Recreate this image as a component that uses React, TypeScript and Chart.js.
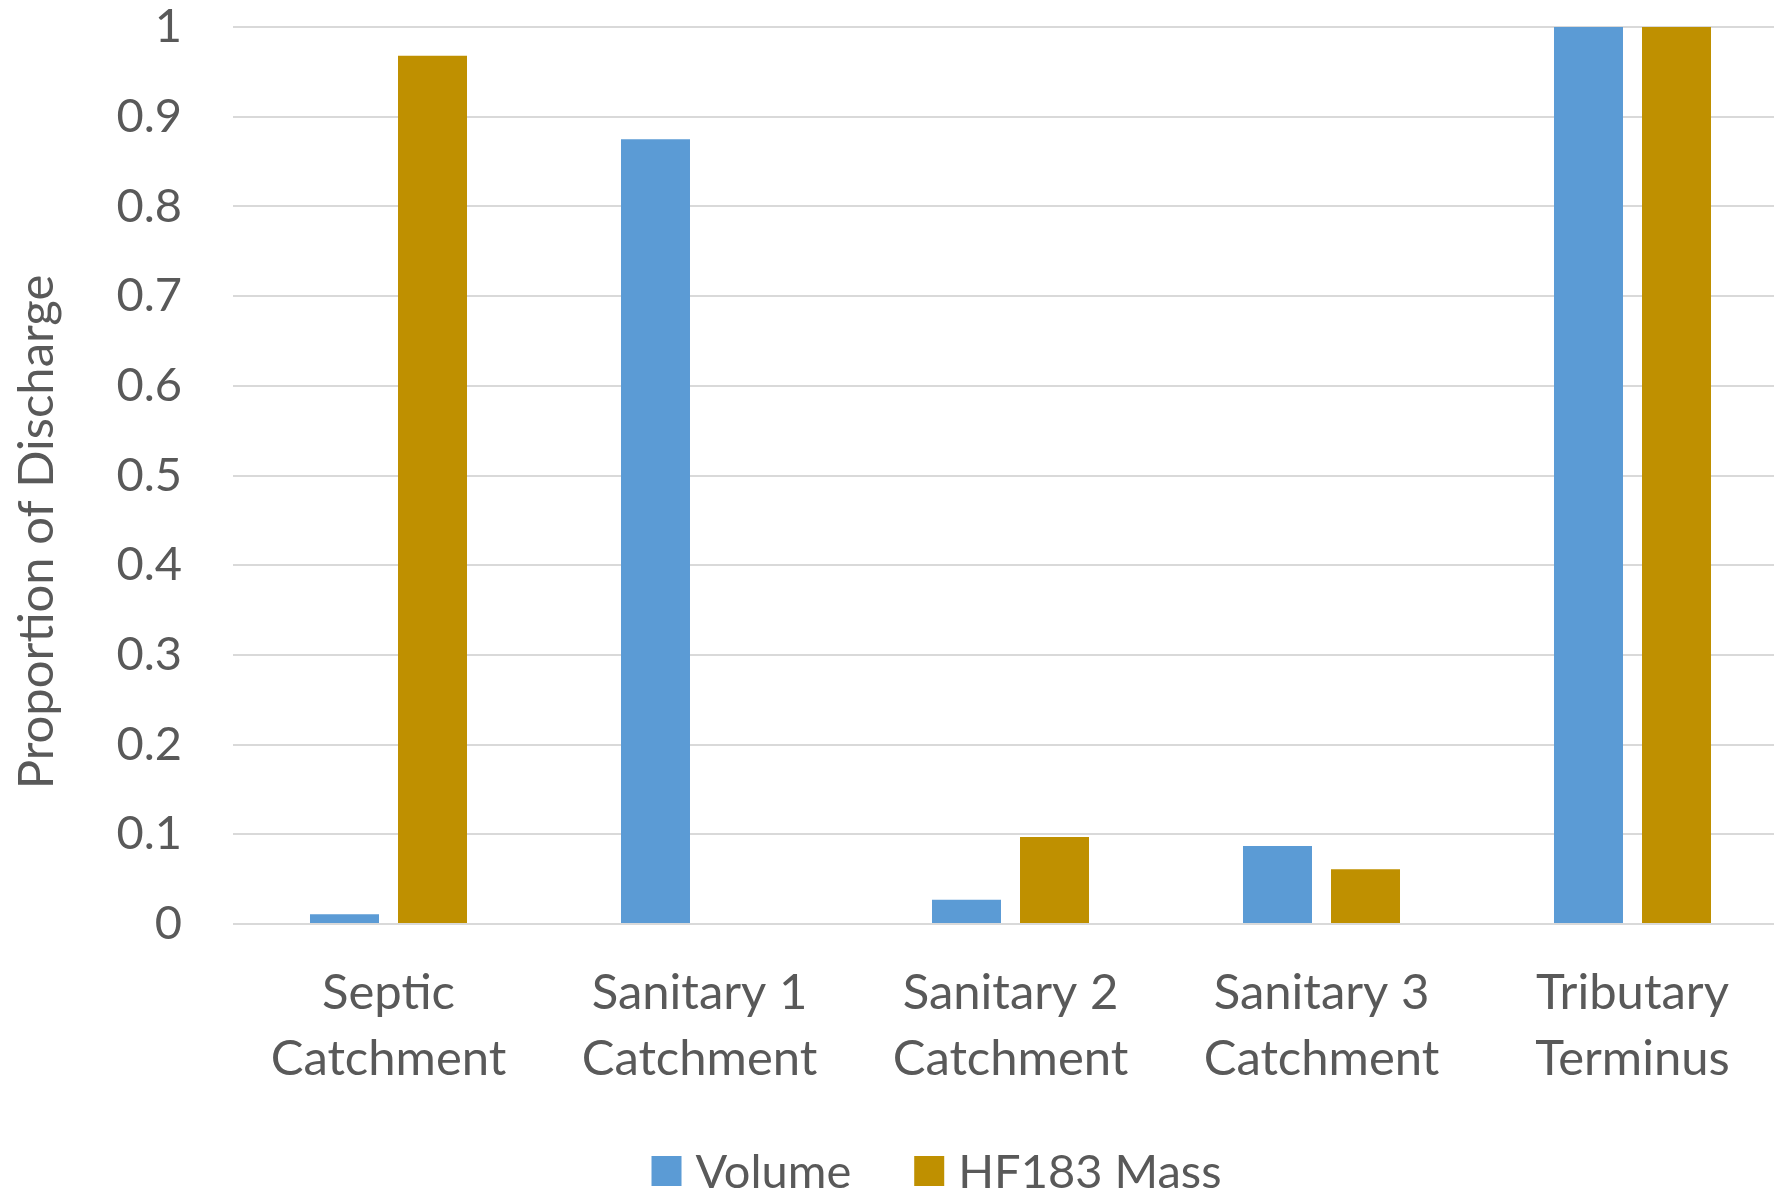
import React, { useEffect, useRef } from "react";
import { Chart, registerables } from "chart.js";

Chart.register(...registerables);

// Catchment categories (two-line labels)
const categories: string[][] = [
  ["Septic", "Catchment"],
  ["Sanitary 1", "Catchment"],
  ["Sanitary 2", "Catchment"],
  ["Sanitary 3", "Catchment"],
  ["Tributary", "Terminus"],
];

// Proportion of discharge per catchment
const volume: number[] = [0.011, 0.875, 0.027, 0.087, 1];
const hf183Mass: number[] = [0.968, 0, 0.097, 0.061, 1];

const seriesNames: string[] = ["Volume", "HF183 Mass"];
const seriesColors: string[] = ["#5B9BD5", "#BF9000"];

const yAxisTitle = "Proportion of Discharge";
const yMin = 0;
const yMax = 1;
const yStep = 0.1;

const FONT = "Lato, 'Open Sans', sans-serif";
const TICK_SIZE = 47;
const LABEL_SIZE = 49;
const TITLE_SIZE = 49;
const LEGEND_SIZE = 47;
const TEXT_COLOR = "#595959";
const GRID_COLOR = "#D9D9D9";

// Visible page area; the plot runs a little past the right edge
const W = 1774;
const H = 1190;
const CANVAS_W = 1788;

// Draws the rotated y-axis title and the bottom legend
const decorations = {
  id: "decorations",
  afterDraw(chart: Chart) {
    const ctx = chart.ctx;
    ctx.save();
    ctx.fillStyle = TEXT_COLOR;

    // y-axis title
    ctx.save();
    ctx.font = `${TITLE_SIZE}px ${FONT}`;
    ctx.translate(53, 532);
    ctx.rotate(-Math.PI / 2);
    ctx.textAlign = "center";
    ctx.textBaseline = "alphabetic";
    ctx.fillText(yAxisTitle, 0, 0);
    ctx.restore();

    // legend
    ctx.font = `${LEGEND_SIZE}px ${FONT}`;
    const box = 30;
    const boxGap = 14;
    const itemGap = 63;
    const items = chart.data.datasets.map((ds) => ({
      label: String(ds.label),
      color: String(ds.backgroundColor),
      w: ctx.measureText(String(ds.label)).width,
    }));
    const total =
      items.reduce((s, it) => s + box + boxGap + it.w, 0) + itemGap * (items.length - 1);
    let x = 936.5 - total / 2;
    const cy = 1171;
    ctx.textAlign = "left";
    ctx.textBaseline = "middle";
    for (const it of items) {
      ctx.fillStyle = it.color;
      ctx.fillRect(x, cy - box / 2, box, box);
      x += box + boxGap;
      ctx.fillStyle = TEXT_COLOR;
      ctx.fillText(it.label, x, cy + 2);
      x += it.w + itemGap;
    }
    ctx.restore();
  },
};

export default function App() {
  const ref = useRef<HTMLCanvasElement | null>(null);

  useEffect(() => {
    if (!ref.current) return;
    const chart = new Chart(ref.current, {
      type: "bar",
      data: {
        labels: categories,
        datasets: [
          {
            label: seriesNames[0],
            data: volume,
            backgroundColor: seriesColors[0],
            borderWidth: 0,
            categoryPercentage: 0.566,
            barPercentage: 0.784,
          },
          {
            label: seriesNames[1],
            data: hf183Mass,
            backgroundColor: seriesColors[1],
            borderWidth: 0,
            categoryPercentage: 0.566,
            barPercentage: 0.784,
          },
        ],
      },
      options: {
        animation: false,
        responsive: false,
        devicePixelRatio: 1,
        layout: { padding: { top: 27, left: 0, right: 0, bottom: 0 } },
        plugins: {
          legend: { display: false },
          tooltip: { enabled: false },
          title: { display: false },
        },
        scales: {
          x: {
            grid: { display: false },
            border: { display: false },
            ticks: {
              color: TEXT_COLOR,
              font: { family: FONT, size: LABEL_SIZE, lineHeight: 1.35 },
              padding: 28,
              maxRotation: 0,
              autoSkip: false,
            },
            afterFit(scale: any) {
              scale.height = 266;
            },
          },
          y: {
            min: yMin,
            max: yMax,
            grid: { color: GRID_COLOR, lineWidth: 2, drawTicks: false },
            border: { display: false },
            ticks: {
              stepSize: yStep,
              color: TEXT_COLOR,
              font: { family: FONT, size: TICK_SIZE, lineHeight: 1.0 },
              padding: 51,
              callback: (v: any) => String(parseFloat(Number(v).toFixed(1))),
            },
            afterFit(scale: any) {
              scale.width = 233;
              scale.paddingTop = 0;
              scale.paddingBottom = 0;
            },
          },
        },
      },
      plugins: [decorations],
    });
    return () => chart.destroy();
  }, []);

  return (
    <div
      style={{
        position: "absolute",
        left: 0,
        top: 0,
        width: W,
        height: H,
        overflow: "hidden",
        background: "#fff",
      }}
    >
      <canvas ref={ref} width={CANVAS_W} height={H} style={{ display: "block" }} />
    </div>
  );
}
